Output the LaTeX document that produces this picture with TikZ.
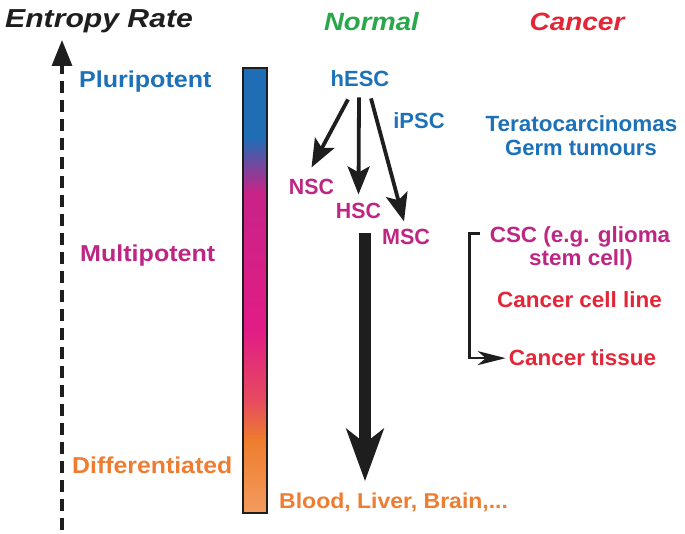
\documentclass[tikz,border=0pt]{standalone}
\usepackage{fontspec}
\setmainfont{Liberation Sans}
\usepackage{graphicx}
\usetikzlibrary{arrows.meta}
\definecolor{cblue}{RGB}{28,113,184}
\definecolor{cmag}{RGB}{190,38,132}
\definecolor{cred}{RGB}{227,38,56}
\definecolor{corange}{RGB}{238,125,49}
\definecolor{cgreen}{RGB}{40,168,74}
\definecolor{cblack}{RGB}{30,30,30}
\definecolor{b1}{RGB}{30,109,181}
\definecolor{b2}{RGB}{140,70,150}
\definecolor{b3}{RGB}{200,35,135}
\definecolor{b4}{RGB}{226,28,134}
\definecolor{b5}{RGB}{230,75,95}
\definecolor{b6}{RGB}{238,125,45}
\definecolor{b7}{RGB}{243,155,95}
\newcommand{\hstr}[2]{\scalebox{#1}[1]{#2}}
\begin{document}
\begin{tikzpicture}[x=1pt,y=-1pt,
  title/.style={inner sep=0pt, anchor=base, font=\fontsize{25}{29}\selectfont\bfseries\itshape},
  llab/.style={inner sep=0pt, anchor=base west, font=\fontsize{23}{27}\selectfont\bfseries},
  rlab/.style={inner sep=0pt, anchor=base, font=\fontsize{22}{26}\selectfont\bfseries},
  thinarrow/.style={draw=cblack, line width=3.8pt, -{Stealth[length=28pt,width=22pt,inset=6pt]}},
  bigarrow/.style={draw=cblack, line width=12pt, -{Stealth[length=52pt,width=37pt,inset=14pt]}},
  axisarrow/.style={draw=cblack, line width=3.2pt, dash pattern=on 12pt off 7pt, -{Triangle[length=26pt,width=20pt]}},
  brackarrow/.style={draw=cblack, line width=2.5pt, -{Stealth[length=28pt,width=14pt,inset=8pt]}},
]
\useasboundingbox (0,0) rectangle (685,534);

% titles
\node[title, anchor=base west, font=\fontsize{26}{30}\selectfont\bfseries\itshape, text=cblack] (entropy) at (5,28) {\hstr{1.16}{Entropy Rate}};
\node[title, text=cgreen] (normal) at (371.5,31) {\hstr{1.1}{Normal}};
\node[title, text=cred] (cancer) at (577,31) {\hstr{1.12}{Cancer}};

% axis
\coordinate (axbot) at (62,530);
\coordinate (axtop) at (62,40);
\draw[axisarrow] (axbot) -- (axtop);

% left labels
\node[llab, text=cblue] (pluri) at (79,88) {\hstr{1.09}{Pluripotent}};
\node[llab, text=cmag] (multi) at (80,262) {\hstr{1.09}{Multipotent}};
\node[llab, text=corange] (diff) at (72,473) {\hstr{1.08}{Differentiated}};

% colour bar
\fill[b1] (243,68) rectangle (267,138);
\shade[top color=b1, middle color=b2, bottom color=b3] (243,137) rectangle (267,193);
\shade[top color=b3, bottom color=b4] (243,192) rectangle (267,331);
\shade[top color=b4, bottom color=b5] (243,330) rectangle (267,401);
\shade[top color=b5, bottom color=b6] (243,400) rectangle (267,441);
\shade[top color=b6, bottom color=b7] (243,440) rectangle (267,513);
\draw[cblack, line width=2.5pt] (243,68) rectangle (267,513);

% normal cells
\node[rlab, text=cblue] (hesc) at (360,87) {\hstr{1.0}{hESC}};
\node[rlab, text=cblue] (ipsc) at (419,129) {\hstr{1.0}{iPSC}};
\node[rlab, text=cmag] (nsc) at (311.5,195) {\hstr{0.97}{NSC}};
\node[rlab, text=cmag] (hsc) at (358.5,219) {\hstr{0.97}{HSC}};
\node[rlab, text=cmag] (msc) at (406,245) {\hstr{0.98}{MSC}};
\node[llab, font=\fontsize{21.5}{25}\selectfont\bfseries, text=corange] (blood) at (279,508) {\hstr{1.07}{Blood, Liver, Brain,...}};

\draw[thinarrow] ([xshift=-12pt,yshift=-12pt]hesc.south) -- ([yshift=12pt]nsc.north);
\draw[thinarrow] ([xshift=-1pt,yshift=-10pt]hesc.south) -- ([yshift=9pt]hsc.north);
\draw[thinarrow] ([xshift=11pt,yshift=-11pt]hesc.south) -- ([xshift=-2pt,yshift=8pt]msc.north);

\path ([xshift=6.5pt,yshift=-14pt]hsc.south) coordinate (bt);
\path (bt |- blood.north) coordinate (bb);
\draw[bigarrow] (bt) -- ([yshift=11pt]bb);

% cancer
\node[rlab, text=cblue] (terato) at (581.5,132) {\hstr{1.02}{Teratocarcinomas}};
\node[rlab, text=cblue] (germ) at (581,156) {\hstr{1.0}{Germ tumours}};
\node[rlab, text=cmag] (csc) at (580,243) {\hstr{1.02}{CSC (e.g. glioma}};
\node[rlab, text=cmag] (csc2) at (581,266) {\hstr{1.02}{stem cell)}};
\node[rlab, text=cred] (cline) at (579.5,308) {\hstr{1.02}{Cancer cell line}};
\node[rlab, text=cred] (tissue) at (582.5,366) {\hstr{1.02}{Cancer tissue}};

\draw[brackarrow] ([xshift=-10pt,yshift=4pt]csc.west) -- ++(-10,0) |- ([xshift=-3pt]tissue.west);
\end{tikzpicture}
\end{document}
